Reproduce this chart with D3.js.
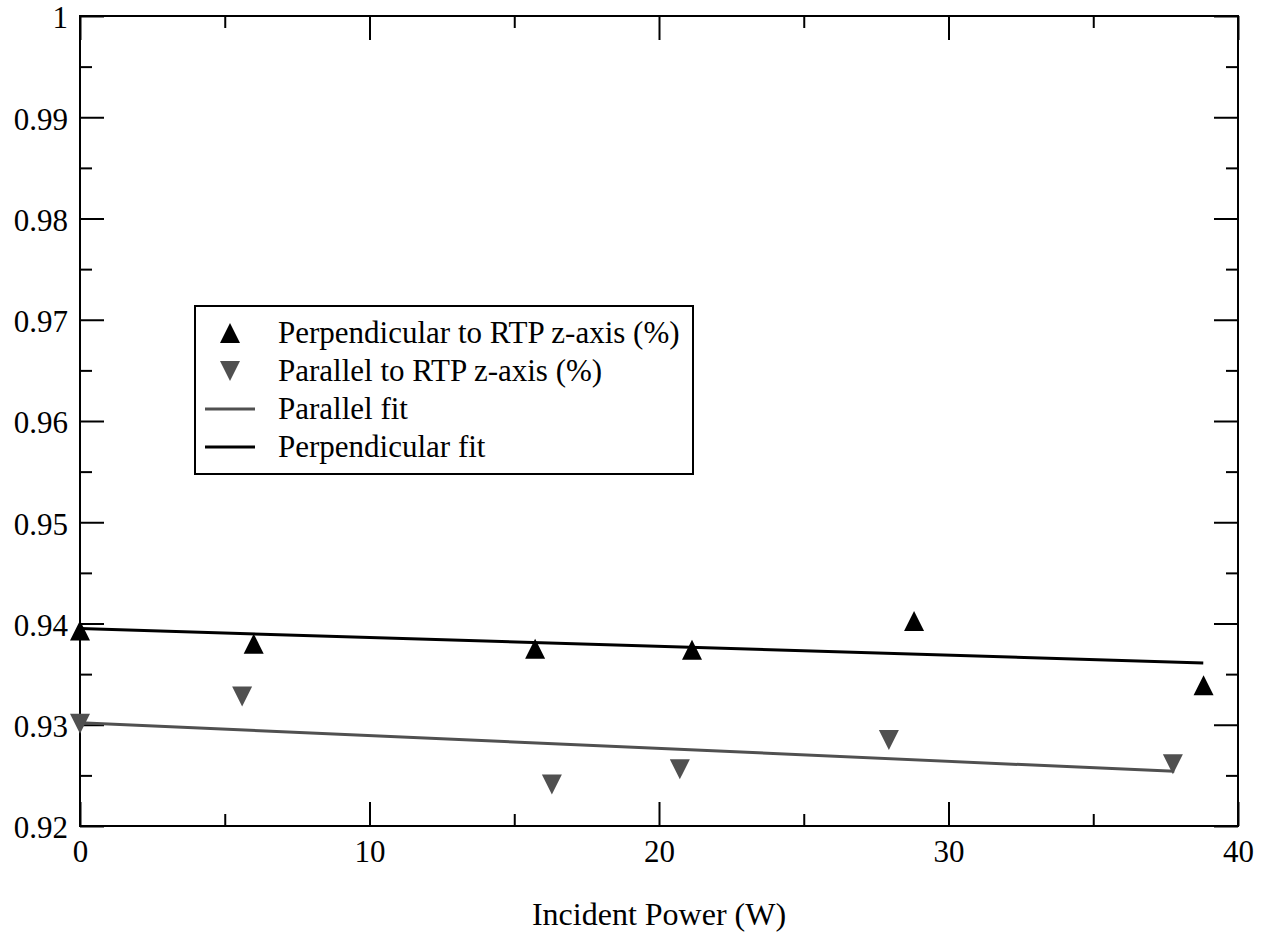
<!DOCTYPE html>
<html>
<head>
<meta charset="utf-8">
<script src="https://cdn.jsdelivr.net/npm/d3@7"></script>
<style>
  body { margin: 0; background: #fff; }
</style>
</head>
<body>
<svg id="chart"></svg>
<script>
// measured points
let perpX = [0, 6.0, 15.72, 21.14, 28.81, 38.81];
let perpY = [0.9393, 0.9380, 0.9375, 0.9374, 0.94025, 0.9339];
let parX = [0, 5.6, 16.3, 20.72, 27.94, 37.75];
let parY = [0.9301, 0.9328, 0.9241, 0.9256, 0.9285, 0.9261];
// fit lines (end points)
let perpFitX = [0, 38.8];
let perpFitY = [0.9395, 0.9361];
let parFitX = [0, 37.8];
let parFitY = [0.9302, 0.9254];

let xTicks = [0, 10, 20, 30, 40];
let yTicks = [0.92, 0.93, 0.94, 0.95, 0.96, 0.97, 0.98, 0.99, 1];
let legendNames = ["Perpendicular to RTP z-axis (%)", "Parallel to RTP z-axis (%)", "Parallel fit", "Perpendicular fit"];

const W = 1268, H = 932;
const margin = { top: 16, right: 30, bottom: 106, left: 80 };
const width = W - margin.left - margin.right;
const height = H - margin.top - margin.bottom;
const gray = "#505050";
const serif = "'Liberation Serif'";

let svg = d3.select("#chart").attr("width", W).attr("height", H);
let g = svg.append("g").attr("transform", "translate(" + margin.left + "," + margin.top + ")");

let x = d3.scaleLinear([0, 40], [0, width]);
let y = d3.scaleLinear([0.92, 1], [height, 0]);

let xMinor = d3.range(5, 40, 10);
let yMinor = d3.range(0, 8).map(i => 0.925 + i * 0.01);
let fmtY = d => d === 1 ? "1" : d.toFixed(2);

function styleAxis(sel) {
    sel.attr("font-family", null).attr("font-size", null);
    sel.select(".domain").remove();
    sel.selectAll("line").attr("stroke", "#000").attr("stroke-width", 2);
    sel.selectAll("text").style("font-family", serif).attr("font-size", 31).attr("fill", "#000");
}

// bottom / top
g.append("g").attr("transform", "translate(0," + height + ")")
    .call(d3.axisBottom(x).tickValues(xTicks).tickSize(-24).tickPadding(14).tickFormat(d3.format("d")))
    .call(styleAxis);
g.append("g").attr("transform", "translate(0," + height + ")")
    .call(d3.axisBottom(x).tickValues(xMinor).tickSize(-12).tickFormat(""))
    .call(styleAxis);
g.append("g")
    .call(d3.axisTop(x).tickValues(xTicks).tickSize(-24).tickFormat(""))
    .call(styleAxis);
g.append("g")
    .call(d3.axisTop(x).tickValues(xMinor).tickSize(-12).tickFormat(""))
    .call(styleAxis);

// left / right
g.append("g")
    .call(d3.axisLeft(y).tickValues(yTicks).tickSize(-24).tickPadding(12).tickFormat(fmtY))
    .call(styleAxis)
    .selectAll("text").attr("dy", "0.38em");
g.append("g")
    .call(d3.axisLeft(y).tickValues(yMinor).tickSize(-12).tickFormat(""))
    .call(styleAxis);
g.append("g").attr("transform", "translate(" + width + ",0)")
    .call(d3.axisRight(y).tickValues(yTicks).tickSize(-24).tickFormat(""))
    .call(styleAxis);
g.append("g").attr("transform", "translate(" + width + ",0)")
    .call(d3.axisRight(y).tickValues(yMinor).tickSize(-12).tickFormat(""))
    .call(styleAxis);

// frame
g.append("rect").attr("width", width).attr("height", height)
    .attr("fill", "none").attr("stroke", "#000").attr("stroke-width", 2);

// fit lines
let line = d3.line().x(d => x(d[0])).y(d => y(d[1]));
g.append("path").datum(d3.zip(parFitX, parFitY))
    .attr("d", line).attr("fill", "none").attr("stroke", gray).attr("stroke-width", 3);
g.append("path").datum(d3.zip(perpFitX, perpFitY))
    .attr("d", line).attr("fill", "none").attr("stroke", "#000").attr("stroke-width", 3);

// triangle markers
function triUp(cx, cy) { return "M" + cx + "," + (cy - 10) + "L" + (cx + 10) + "," + (cy + 10) + "L" + (cx - 10) + "," + (cy + 10) + "Z"; }
function triDown(cx, cy) { return "M" + cx + "," + (cy + 10) + "L" + (cx + 10) + "," + (cy - 10) + "L" + (cx - 10) + "," + (cy - 10) + "Z"; }

g.append("g").selectAll("path").data(d3.zip(perpX, perpY)).enter().append("path")
    .attr("d", d => triUp(x(d[0]), y(d[1]))).attr("fill", "#000");
g.append("g").selectAll("path").data(d3.zip(parX, parY)).enter().append("path")
    .attr("d", d => triDown(x(d[0]), y(d[1]))).attr("fill", gray);

// axis title
svg.append("text")
    .attr("x", margin.left + width / 2).attr("y", 925)
    .attr("text-anchor", "middle")
    .style("font-family", serif).attr("font-size", 32)
    .text("Incident Power (W)");

// legend
let legend = svg.append("g").attr("transform", "translate(195,306)");
legend.append("rect").attr("width", 498).attr("height", 168)
    .attr("fill", "#fff").attr("stroke", "#000").attr("stroke-width", 2);
let rows = legend.selectAll("g.row").data(legendNames).enter().append("g")
    .attr("class", "row")
    .attr("transform", (d, i) => "translate(0," + (27 + i * 38) + ")");
rows.append("text").attr("x", 83).attr("y", 10)
    .style("font-family", serif).attr("font-size", 31)
    .text(d => d);
rows.filter((d, i) => i === 0).append("path").attr("d", triUp(35, 0)).attr("fill", "#000");
rows.filter((d, i) => i === 1).append("path").attr("d", triDown(35, 0)).attr("fill", gray);
rows.filter((d, i) => i >= 2).append("line")
    .attr("x1", 10).attr("x2", 60).attr("y1", 0).attr("y2", 0)
    .attr("stroke", (d, i) => i === 0 ? gray : "#000").attr("stroke-width", 3);
</script>
</body>
</html>
